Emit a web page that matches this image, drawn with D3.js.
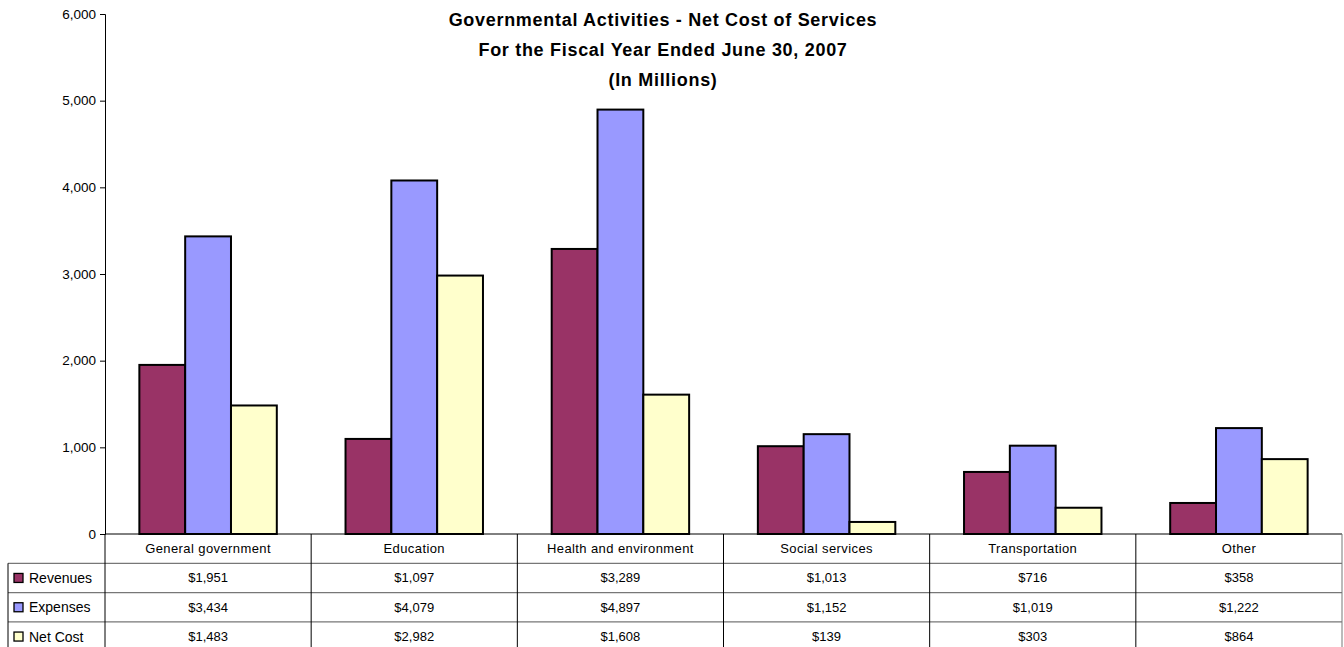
<!DOCTYPE html>
<html>
<head>
<meta charset="utf-8">
<script src="https://cdn.jsdelivr.net/npm/d3@7"></script>
<style>
  body { margin: 0; background: #fff; }
  text { font-family: Arial, "Liberation Sans", sans-serif; fill: #000; }
</style>
</head>
<body>
<svg id="chart" width="1344" height="647"></svg>
<script>
'use strict';

// chart data
var categories = ['General government', 'Education', 'Health and environment', 'Social services', 'Transportation', 'Other'];
var seriesNames = ['Revenues', 'Expenses', 'Net Cost'];
var revenues = [1951, 1097, 3289, 1013, 716, 358];
var expenses = [3434, 4079, 4897, 1152, 1019, 1222];
var netCost = [1483, 2982, 1608, 139, 303, 864];
var yTicks = [0, 1000, 2000, 3000, 4000, 5000, 6000];
var titleLines = ['Governmental Activities - Net Cost of Services', 'For the Fiscal Year Ended June 30, 2007', '(In Millions)'];

var seriesValues = [revenues, expenses, netCost];
var colors = ['#993366', '#9999ff', '#ffffcc'];

var margin = { left: 105, right: 2, top: 14, bottom: 113 };
var width = 1344, height = 647;
var tableLeft = 8, rowH = 29.3;

var svg = d3.select('#chart');

var x = d3.scaleBand().domain(categories).range([margin.left, width - margin.right]).paddingInner(0).paddingOuter(0);
// bars take 2/3 of each category, centred
var x1 = d3.scaleBand().domain(seriesNames).range([0, x.bandwidth()]).paddingOuter(0.75).paddingInner(0);
var y = d3.scaleLinear().domain([0, 6000]).range([height - margin.bottom, margin.top]);
var y0 = y(0);

// bars
var groups = svg.selectAll('.group')
    .data(categories)
    .enter().append('g')
    .attr('class', 'group')
    .attr('transform', function (d) { return 'translate(' + x(d) + ',0)'; });

groups.selectAll('rect')
    .data(function (d, i) {
        return seriesNames.map(function (s, j) { return { s: s, v: seriesValues[j][i], j: j }; });
    })
    .enter().append('rect')
    .attr('x', function (d) { return x1(d.s); })
    .attr('width', x1.bandwidth())
    .attr('y', function (d) { return y(d.v); })
    .attr('height', function (d) { return y0 - y(d.v); })
    .attr('fill', function (d) { return colors[d.j]; })
    .attr('stroke', '#000')
    .attr('stroke-width', 2);

// y axis
var yAxis = d3.axisLeft(y).tickValues(yTicks).tickSize(5).tickPadding(4).tickFormat(d3.format(','));
var gy = svg.append('g').attr('transform', 'translate(' + margin.left + ',0)').call(yAxis);
gy.select('.domain').attr('stroke', '#000');
gy.selectAll('.tick line').attr('stroke', '#000');
gy.selectAll('.tick text').style('font-size', '13.5px').attr('font-family', 'Arial, "Liberation Sans", sans-serif');

// data table
var tableBottom = y0 + rowH * 4 + 4;
var t = svg.append('g').attr('class', 'table');

// horizontal lines
t.append('line').attr('x1', margin.left).attr('x2', width - margin.right)
    .attr('y1', y0).attr('y2', y0).attr('stroke', '#000');
for (var r = 1; r <= 3; r++) {
    t.append('line').attr('x1', tableLeft).attr('x2', width - margin.right)
        .attr('y1', y0 + rowH * r).attr('y2', y0 + rowH * r)
        .attr('stroke', '#777').attr('stroke-width', 1.2);
}

// vertical lines
var vx = categories.map(function (c) { return x(c); }).concat([width - margin.right]);
vx.forEach(function (v, i) {
    t.append('line').attr('x1', v).attr('x2', v)
        .attr('y1', y0).attr('y2', tableBottom)
        .attr('stroke', i === vx.length - 1 ? '#777' : '#000');
});
t.append('line').attr('x1', tableLeft).attr('x2', tableLeft)
    .attr('y1', y0 + rowH).attr('y2', tableBottom).attr('stroke', '#000');

// category header
t.selectAll('.cat').data(categories).enter().append('text')
    .attr('x', function (d) { return x(d) + x.bandwidth() / 2; })
    .attr('y', y0 + rowH / 2 + 4.5)
    .attr('text-anchor', 'middle')
    .style('font-size', '13px')
    .style('letter-spacing', '0.4px')
    .text(function (d) { return d; });

var fmt = d3.format(',');
seriesNames.forEach(function (s, j) {
    var ry = y0 + rowH * (j + 1);
    t.append('rect').attr('x', 14).attr('y', ry + rowH / 2 - 4.5)
        .attr('width', 9).attr('height', 9)
        .attr('fill', colors[j]).attr('stroke', '#000').attr('stroke-width', 1.3);
    t.append('text').attr('x', 29).attr('y', ry + rowH / 2 + 5)
        .style('font-size', '14px').text(s);
    t.selectAll('.v' + j).data(seriesValues[j]).enter().append('text')
        .attr('x', function (d, i) { return x(categories[i]) + x.bandwidth() / 2; })
        .attr('y', ry + rowH / 2 + 4.5)
        .attr('text-anchor', 'middle')
        .style('font-size', '13px')
        .text(function (d) { return '$' + fmt(d); });
});

// title
svg.append('g').selectAll('text').data(titleLines).enter().append('text')
    .attr('x', 663)
    .attr('y', function (d, i) { return 26 + i * 30; })
    .attr('text-anchor', 'middle')
    .style('font-size', '18px')
    .style('font-weight', 'bold')
    .style('letter-spacing', '0.7px')
    .text(function (d) { return d; });
</script>
</body>
</html>
